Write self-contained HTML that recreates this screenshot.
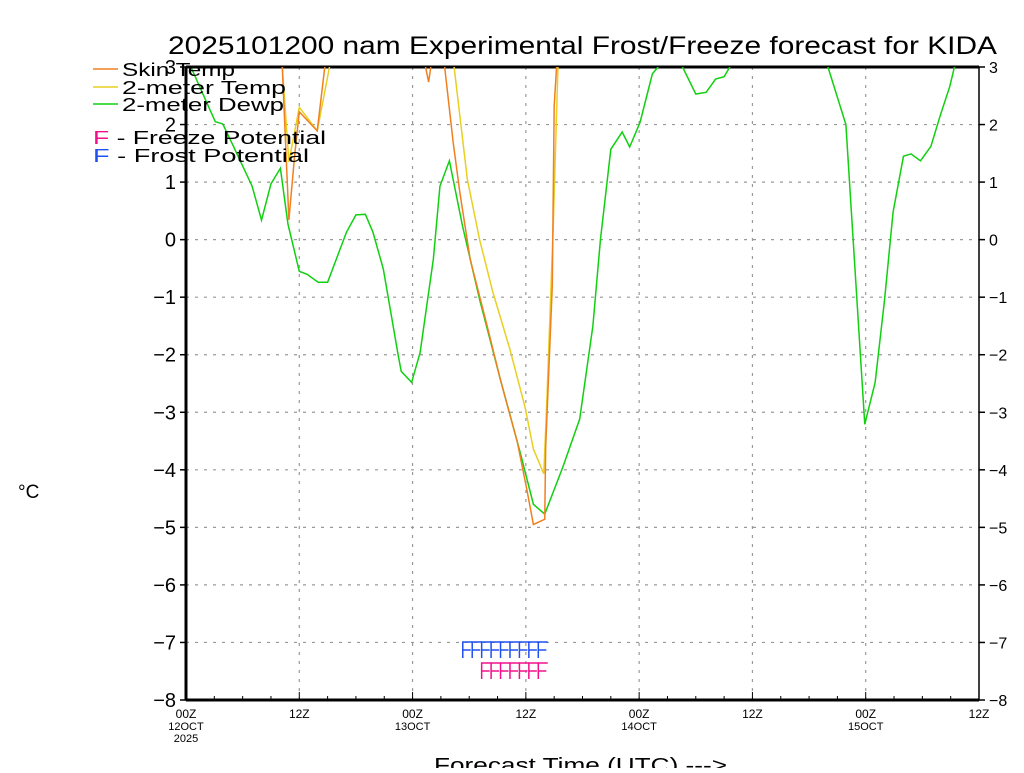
<!DOCTYPE html>
<html><head><meta charset="utf-8"><style>
body{margin:0;background:#fff;}
svg text{font-family:"Liberation Sans",sans-serif;}
</style></head><body>
<svg id="chart" width="1024" height="768" viewBox="0 0 1024 768">
<text x="168" y="54" font-size="25" textLength="829" lengthAdjust="spacingAndGlyphs">2025101200 nam Experimental Frost/Freeze forecast for KIDA</text>
<text x="18" y="498" font-size="19">°C</text>
<text x="434" y="772" font-size="20" textLength="293" lengthAdjust="spacingAndGlyphs">Forecast Time (UTC) ---&gt;</text>
<g id="grid"></g>
<g id="axes"></g>
<defs><clipPath id="plotclip"><rect x="186" y="67" width="793" height="633"/></clipPath></defs>
<g id="series" clip-path="url(#plotclip)"></g>
<g id="marks"></g>
<g>
<line x1="93" y1="69" x2="118" y2="69" stroke="#f08020" stroke-width="1.5"/>
<text x="122" y="76" font-size="18" textLength="113" lengthAdjust="spacingAndGlyphs">Skin Temp</text>
<line x1="93" y1="87" x2="118" y2="87" stroke="#e8d020" stroke-width="1.5"/>
<text x="122" y="94" font-size="18" textLength="164" lengthAdjust="spacingAndGlyphs">2-meter Temp</text>
<line x1="93" y1="104" x2="118" y2="104" stroke="#10d010" stroke-width="1.5"/>
<text x="122" y="111" font-size="18" textLength="162" lengthAdjust="spacingAndGlyphs">2-meter Dewp</text>
<text x="93" y="144" font-size="18" textLength="233" lengthAdjust="spacingAndGlyphs"><tspan fill="#f0108a">F</tspan> - Freeze Potential</text>
<text x="93" y="162" font-size="18" textLength="216" lengthAdjust="spacingAndGlyphs"><tspan fill="#2050f0">F</tspan> - Frost Potential</text>
</g>
</svg>
<script>
const yTicks=[-8,-7,-6,-5,-4,-3,-2,-1,0,1,2,3];
const xTickHours=[0,12,24,36,48,60,72,84];
const xTickLabels=["00Z","12Z","00Z","12Z","00Z","12Z","00Z","12Z"];
const xDateLabels=["12OCT\n2025","","13OCT","","14OCT","","15OCT",""];
const skinHours=[0,9,10.2,10.9,11.5,12,13.9,14.7,18,25,25.7,26.2,27,27.4,28.3,29,30.1,31.9,33.3,35.1,36.1,36.8,38,38.1,38.8,39,40,84];
const skinTemp=[4,4,3,0.34,1.45,2.22,1.89,3,5,3.3,2.74,3.3,4,3,1.69,0.83,-0.34,-1.5,-2.43,-3.52,-4.34,-4.95,-4.86,-3.6,-0.8,2.32,5,6];
const t2Hours=[0,9,10.2,10.9,12,13.9,15.2,20,28.4,29.8,31.1,32.5,34.3,35.9,36.8,37.9,38.2,38.9,39.4,42,84];
const t2Temp=[4,4,3,1.35,2.3,1.89,3,5,3,1.05,0,-0.91,-1.9,-2.9,-3.64,-4.07,-2.9,0.23,3,6,6];
const tdHours=[0.6,3.1,3.9,5,7,8,9,10,10.8,12,12.8,14,15,17,18,19,19.8,20.9,22.5,22.8,23.9,24.8,26.2,26.9,27.9,29.3,31.1,33.3,35.4,36.8,38,39.9,41.7,43.1,43.9,45,46.2,47,48.1,49.4,50,51,52.6,54,55.1,56.1,57,57.6,60,64,67,68,69.9,71.9,73,74,74.9,76,76.8,77.8,78.9,79.9,80.9,81.4,82];
const tdVals=[2.97,2.05,2.01,1.63,0.93,0.34,0.97,1.24,0.27,-0.55,-0.6,-0.74,-0.74,0.13,0.43,0.44,0.13,-0.51,-2.03,-2.29,-2.48,-1.96,-0.34,0.93,1.37,0.23,-1.04,-2.43,-3.7,-4.6,-4.77,-3.96,-3.12,-1.5,0,1.57,1.87,1.61,2.04,2.88,3,3.2,3,2.53,2.56,2.79,2.83,3,3.6,3.8,3.2,3,2,-3.21,-2.48,-1.04,0.48,1.45,1.49,1.37,1.62,2.16,2.66,3,3.3];
const frostHours=[29,30,31,32,33,34,35,36,37];
const freezeHours=[31,32,33,34,35,36,37];

const NS="http://www.w3.org/2000/svg";
const X0=186,X1=979,Y0=700,Y1=67;
const xs=h=>X0+(h/84)*(X1-X0);
const ys=v=>Y0-(v+8)/11*(Y0-Y1);
function mk(tag,attrs,parent){const e=document.createElementNS(NS,tag);for(const k in attrs)e.setAttribute(k,attrs[k]);parent.appendChild(e);return e;}
const grid=document.getElementById('grid'),axes=document.getElementById('axes'),series=document.getElementById('series'),marks=document.getElementById('marks');
yTicks.forEach(v=>{
 const y=ys(v);
 if(v>-8&&v<3){const l=mk('line',{x1:X0,x2:X1,y1:y,y2:y,stroke:'#999','stroke-dasharray':'3,6','stroke-width':1.2},grid);
 
 }
 mk('line',{x1:X0-6,x2:X0,y1:y,y2:y,stroke:'#000','stroke-width':1.5},axes);
 mk('line',{x1:X1,x2:X1+6,y1:y,y2:y,stroke:'#000','stroke-width':1.5},axes);
 const lab=(v<0?'\u2212':'')+Math.abs(v);
 const t1=mk('text',{x:X0-10,y:y+7,'font-size':20,'text-anchor':'end'},axes);t1.textContent=lab;
 
 
 const t2=mk('text',{x:X1+10,y:y+6,'font-size':16},axes);t2.textContent=lab;
 
 
});
for(let h=0;h<=84;h+=3){mk('line',{x1:xs(h),x2:xs(h),y1:Y0,y2:Y0-(h%12?4:8),stroke:'#000','stroke-width':1},axes);}
xTickHours.forEach((h,i)=>{
 const x=xs(h);
 if(h>0&&h<84){const l=mk('line',{x1:x,x2:x,y1:Y1,y2:Y0,stroke:'#999','stroke-dasharray':'3,6','stroke-width':1.2},grid);
 
 }
 const t=mk('text',{x:x,y:Y0+18,'font-size':12,'text-anchor':'middle'},axes);t.textContent=xTickLabels[i];
 
 
 xDateLabels[i].split('\n').forEach((s,j)=>{if(!s)return;const d=mk('text',{x:x,y:Y0+30+j*12,'font-size':11,'text-anchor':'middle'},axes);d.textContent=s;
 
 });
});
mk('rect',{x:X0,y:Y1,width:X1-X0,height:Y0-Y1,fill:'none',stroke:'#000','stroke-width':1.5},axes);
mk('line',{x1:X0,x2:X0,y1:Y1,y2:Y0,stroke:'#000','stroke-width':3},axes);
mk('line',{x1:X0,x2:X1,y1:Y0,y2:Y0,stroke:'#000','stroke-width':3},axes);
mk('line',{x1:X0,x2:X1,y1:Y1,y2:Y1,stroke:'#000','stroke-width':3},axes);
function line(hs,vs,color,name){
 const p=mk('polyline',{points:hs.map((h,i)=>xs(h)+','+ys(vs[i])).join(' '),fill:'none',stroke:color,'stroke-width':1.5},series);
 
 
}
line(tdHours,tdVals,'#10d010','dewpoint-line');
line(t2Hours,t2Temp,'#e8d020','2m-temp-line');
line(skinHours,skinTemp,'#f08020','skin-temp-line');
function fRow(hours,y,color,name){
 const g=mk('g',{},marks);
 
 
 hours.forEach(h=>{const x=xs(h)+3;const w=xs(h+1)-xs(h);
  mk('path',{d:`M${x},${y+16}V${y}H${x+w}M${x},${y+8}H${x+w*0.85}`,stroke:color,fill:'none','stroke-width':1.5},g);});
}
fRow(frostHours,642,'#2050f0','frost-potential-markers');
fRow(freezeHours,663,'#f0108a','freeze-potential-markers');
</script>
</body></html>
